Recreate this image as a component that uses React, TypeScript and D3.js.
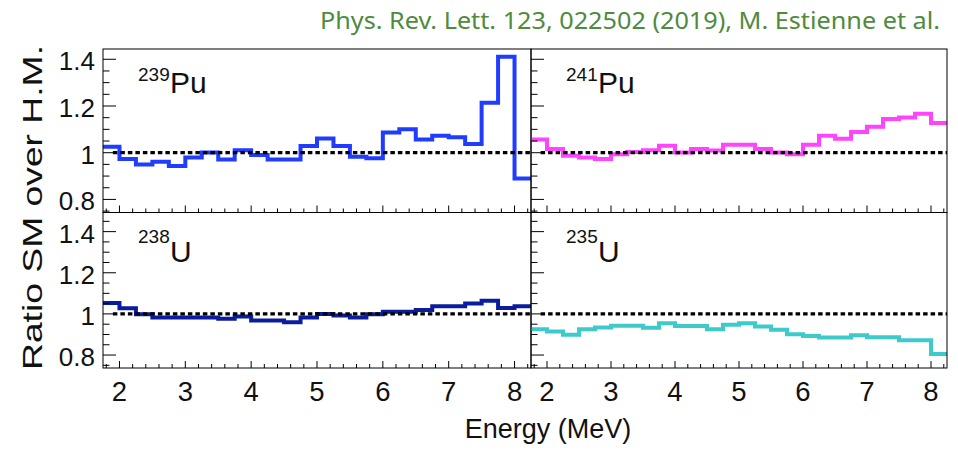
import React from 'react';
import * as d3 from 'd3';

// bin edges of the energy histograms (MeV)
const energyEdges = [1.75, 2.0, 2.25, 2.5, 2.75, 3.0, 3.25, 3.5, 3.75, 4.0, 4.25, 4.5, 4.75,
  5.0, 5.25, 5.5, 5.75, 6.0, 6.25, 6.5, 6.75, 7.0, 7.25, 7.5, 7.75, 8.0, 8.25];

// ratio SM / H.M. per bin
const pu239 = [1.026, 0.973, 0.95, 0.961, 0.943, 0.98, 1.001, 0.971, 1.011, 0.99, 0.971, 0.971, 1.029,
  1.061, 1.029, 0.983, 0.976, 1.086, 1.1, 1.057, 1.073, 1.066, 1.037, 1.214, 1.411, 0.89];
const pu241 = [1.057, 1.016, 0.987, 0.98, 0.973, 0.993, 1.003, 1.011, 1.03, 1.001, 1.016, 1.009, 1.034,
  1.034, 1.016, 1.001, 0.993, 1.034, 1.073, 1.06, 1.089, 1.111, 1.144, 1.151, 1.167, 1.127];
const u238 = [1.053, 1.027, 0.998, 0.982, 0.982, 0.982, 0.982, 0.976, 0.987, 0.968, 0.968, 0.96, 0.982,
  1.0, 0.992, 0.982, 0.998, 1.011, 1.011, 1.019, 1.037, 1.037, 1.051, 1.064, 1.029, 1.037];
const u235 = [0.925, 0.915, 0.899, 0.925, 0.934, 0.942, 0.942, 0.933, 0.955, 0.941, 0.941, 0.925, 0.947,
  0.955, 0.939, 0.923, 0.901, 0.893, 0.885, 0.885, 0.896, 0.886, 0.886, 0.872, 0.872, 0.805];

const xTickValues = [2, 3, 4, 5, 6, 7, 8];
const yTickValues = [0.8, 1, 1.2, 1.4];

const W = 958;
const H = 451;
const FONT = '"Liberation Sans", Arial, Helvetica, sans-serif';

const cols = [{ x0: 103, x1: 531 }, { x0: 531, x1: 947 }];
const rows = [
  { y0: 49, y1: 212.5, domain: [0.744, 1.444], supDy: 32, mainDy: 44 },
  { y0: 212.5, y1: 368, domain: [0.737, 1.493], supDy: 30, mainDy: 49 },
];

const panels = [
  { iso: '239', el: 'Pu', values: pu239, color: '#1f3cff', col: 0, row: 0 },
  { iso: '241', el: 'Pu', values: pu241, color: '#ff44ff', col: 1, row: 0 },
  { iso: '238', el: 'U', values: u238, color: '#0b1c9c', col: 0, row: 1 },
  { iso: '235', el: 'U', values: u235, color: '#3ccaca', col: 1, row: 1 },
];

const Panel: React.FC<{ p: typeof panels[number] }> = ({ p }) => {
  const c = cols[p.col];
  const r = rows[p.row];
  const x = d3.scaleLinear().domain([1.75, 8.25]).range([c.x0, c.x1]);
  const y = d3.scaleLinear().domain(r.domain).range([r.y1, r.y0]);

  const pts: [number, number][] = energyEdges.map((e, i) => [e, p.values[Math.min(i, p.values.length - 1)]]);
  const line = d3.line<[number, number]>()
    .x(d => x(d[0]))
    .y(d => y(d[1]))
    .curve(d3.curveStepAfter);

  const yMinor = d3.range(0.75, 1.5, 0.05).filter(v => v >= r.domain[0] && v <= r.domain[1]);
  const xMinor = d3.range(1.8, 8.25, 0.2);
  const clipId = `clip-${p.iso}`;

  return (
    <g>
      <clipPath id={clipId}>
        <rect x={c.x0} y={r.y0} width={c.x1 - c.x0} height={r.y1 - r.y0} />
      </clipPath>
      <g clipPath={`url(#${clipId})`}>
        <path d={line(pts) || ''} fill="none" stroke={p.color} strokeWidth={4} />
        <line x1={x(1.9)} x2={c.x1} y1={y(1)} y2={y(1)} stroke="#000" strokeWidth={3.2} strokeDasharray="4.5 3" />
      </g>
      <rect x={c.x0} y={r.y0} width={c.x1 - c.x0} height={r.y1 - r.y0} fill="none" stroke="#000" strokeWidth={1} />
      {/* y ticks, inward */}
      {yMinor.map(v => {
        const major = yTickValues.some(t => Math.abs(t - v) < 1e-6);
        return <line key={`ym${v}`} x1={c.x0} x2={c.x0 + (major ? 13 : 6.5)} y1={y(v)} y2={y(v)} stroke="#000" strokeWidth={1} />;
      })}
      {/* x ticks, inward */}
      {xMinor.map(v => {
        const major = xTickValues.some(t => Math.abs(t - v) < 1e-6);
        return <line key={`xm${v}`} x1={x(v)} x2={x(v)} y1={r.y1} y2={r.y1 - (major ? 7 : 4)} stroke="#000" strokeWidth={1} />;
      })}
      {p.col === 0 && yTickValues.map(v => (
        <text key={`yl${v}`} x={95} y={y(v) + 11} textAnchor="end" fontSize={26} fontFamily={FONT} fill="#111">
          {v === 1 ? '1' : v.toFixed(1)}
        </text>
      ))}
      {p.row === 1 && xTickValues.map(v => (
        <text key={`xl${v}`} x={x(v)} y={400.5} textAnchor="middle" fontSize={27.5} fontFamily={FONT} fill="#111">
          {v}
        </text>
      ))}
      <text x={c.x0 + 35} y={r.y0 + r.supDy} fontSize={19} fontFamily={FONT} fill="#111">{p.iso}</text>
      <text x={c.x0 + 35 + 32} y={r.y0 + r.mainDy} fontSize={30} fontFamily={FONT} fill="#111">{p.el}</text>
    </g>
  );
};

const App: React.FC = () => (
  <div style={{ position: 'fixed', left: 0, top: 0, width: W, height: H, background: '#fff' }}>
    <svg width={W} height={H} style={{ display: 'block' }}>
      <rect width={W} height={H} fill="#fff" />
      <text x={940} y={29} textAnchor="end" fontSize={23} fontFamily='"Noto Sans", "Open Sans", sans-serif'
        fill="#4f8b3b" textLength={620} lengthAdjust="spacingAndGlyphs">
        Phys. Rev. Lett. 123, 022502 (2019), M. Estienne et al.
      </text>
      {panels.map(p => <Panel key={p.iso} p={p} />)}
      <text transform="translate(42,207.5) rotate(-90)" textAnchor="middle" fontSize={28} fontFamily={FONT}
        fill="#111" textLength={325} lengthAdjust="spacingAndGlyphs">
        Ratio SM over H.M.
      </text>
      <text x={548} y={438} textAnchor="middle" fontSize={27} fontFamily={FONT} fill="#111">
        Energy (MeV)
      </text>
    </svg>
  </div>
);

export default App;
